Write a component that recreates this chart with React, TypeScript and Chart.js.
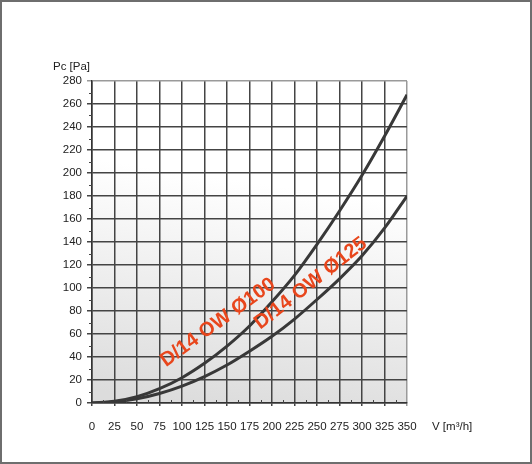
import React, { useEffect, useRef } from "react";
import { Chart, registerables } from "chart.js";

Chart.register(...registerables);

const flowRates = [0, 25, 50, 75, 100, 125, 150, 175, 200, 225, 250, 275, 300, 325, 350];
const pressureD100 = [0, 1.5, 5.5, 12.5, 22, 34.5, 49.5, 67, 88, 111, 138, 167, 198, 232, 268];
const pressureD125 = [0, 1, 3.7, 8.3, 14.7, 23, 33, 45, 58, 73, 90, 108, 128, 152, 180];

const curveLabels = ["D/14 OW Ø100", "D/14 OW Ø125"];
const curveLabelAnchors = [
  { x: 140, y: 70, angle: 36 },
  { x: 243, y: 104, angle: 38 },
];
const yTitle = "Pc [Pa]";
const xTitle = "V [m³/h]";

const FONT = "'Liberation Sans', Arial, Helvetica, sans-serif";

const decorPlugin = {
  id: "decor",
  beforeDraw(chart: any) {
    const { ctx, chartArea: a, width, height } = chart;
    ctx.save();
    ctx.fillStyle = "#ffffff";
    ctx.fillRect(0, 0, width, height);
    const w = a.right - a.left;
    const g = ctx.createLinearGradient(a.left + w * 0.3, a.bottom, a.left + w * 0.45, a.top);
    g.addColorStop(0, "#dcdcdc");
    g.addColorStop(0.7, "#ffffff");
    g.addColorStop(1, "#ffffff");
    ctx.fillStyle = g;
    ctx.fillRect(a.left, a.top, w, a.bottom - a.top);
    ctx.restore();
  },
  afterDraw(chart: any) {
    const { ctx, chartArea: a, width, height } = chart;
    const xs = chart.scales.x;
    const ys = chart.scales.y;
    ctx.save();
    // minor ticks
    ctx.strokeStyle = "#444";
    ctx.lineWidth = 1;
    ctx.beginPath();
    for (let v = 10; v < 280; v += 20) {
      const py = Math.round(ys.getPixelForValue(v)) + 0.5;
      ctx.moveTo(a.left - 3, py);
      ctx.lineTo(a.left, py);
    }
    for (let v = 12.5; v < 350; v += 25) {
      const px = Math.round(xs.getPixelForValue(v)) + 0.5;
      ctx.moveTo(px, a.bottom);
      ctx.lineTo(px, a.bottom - 3);
    }
    ctx.stroke();

    // curve labels
    ctx.fillStyle = "#e8461c";
    ctx.font = `bold 20px ${FONT}`;
    ctx.textAlign = "center";
    ctx.textBaseline = "middle";
    curveLabels.forEach((t, i) => {
      const an = curveLabelAnchors[i];
      ctx.save();
      ctx.translate(xs.getPixelForValue(an.x), ys.getPixelForValue(an.y));
      ctx.rotate((-an.angle * Math.PI) / 180);
      ctx.fillText(t, 0, 0);
      ctx.restore();
    });

    // axis titles
    ctx.fillStyle = "#222";
    ctx.font = `11.5px ${FONT}`;
    ctx.textAlign = "center";
    ctx.textBaseline = "middle";
    ctx.fillText(yTitle, 71.5, 67);
    ctx.textAlign = "left";
    ctx.fillText(xTitle, 432, 427);

    // outer frame
    ctx.strokeStyle = "#6e6e6e";
    ctx.lineWidth = 2;
    ctx.strokeRect(1, 1, width - 2, height - 2);
    ctx.restore();
  },
};

export default function App() {
  const ref = useRef<HTMLCanvasElement | null>(null);
  useEffect(() => {
    document.body.style.margin = "0";
    const canvas = ref.current;
    if (!canvas) return;
    const chart = new Chart(canvas, {
      type: "line",
      data: {
        datasets: [
          {
            label: curveLabels[0],
            data: flowRates.map((x, i) => ({ x, y: pressureD100[i] })),
            borderColor: "#383838",
            borderWidth: 3,
            pointRadius: 0,
            cubicInterpolationMode: "monotone",
            fill: false,
          },
          {
            label: curveLabels[1],
            data: flowRates.map((x, i) => ({ x, y: pressureD125[i] })),
            borderColor: "#383838",
            borderWidth: 3,
            pointRadius: 0,
            cubicInterpolationMode: "monotone",
            fill: false,
          },
        ],
      },
      options: {
        responsive: false,
        animation: false,
        devicePixelRatio: 1,
        layout: { padding: { left: 32, top: 81, right: 125, bottom: 21 } },
        plugins: { legend: { display: false }, tooltip: { enabled: false } },
        scales: {
          x: {
            type: "linear",
            min: 0,
            max: 350,
            afterFit: (s: any) => {
              s.height = 40;
            },
            ticks: {
              stepSize: 25,
              color: "#222",
              font: { family: FONT, size: 11.5 },
              padding: 14,
              maxRotation: 0,
              autoSkip: false,
            },
            grid: {
              color: (c: any) => (c.tick && c.tick.value === 350 ? "#9a9a9a" : "#444"),
              lineWidth: 1.5,
              tickLength: 3,
            },
            border: { color: "#333", width: 1.5 },
          },
          y: {
            type: "linear",
            min: 0,
            max: 280,
            afterFit: (s: any) => {
              s.width = 60;
            },
            ticks: {
              stepSize: 20,
              color: "#222",
              font: { family: FONT, size: 11.5 },
              padding: 5,
              autoSkip: false,
            },
            grid: {
              color: (c: any) => (c.tick && c.tick.value === 280 ? "#9a9a9a" : "#444"),
              lineWidth: 1.5,
              tickLength: 5,
            },
            border: { color: "#333", width: 1.5 },
          },
        },
      },
      plugins: [decorPlugin],
    } as any);
    return () => chart.destroy();
  }, []);
  return <canvas ref={ref} width={532} height={464} style={{ display: "block" }} />;
}
